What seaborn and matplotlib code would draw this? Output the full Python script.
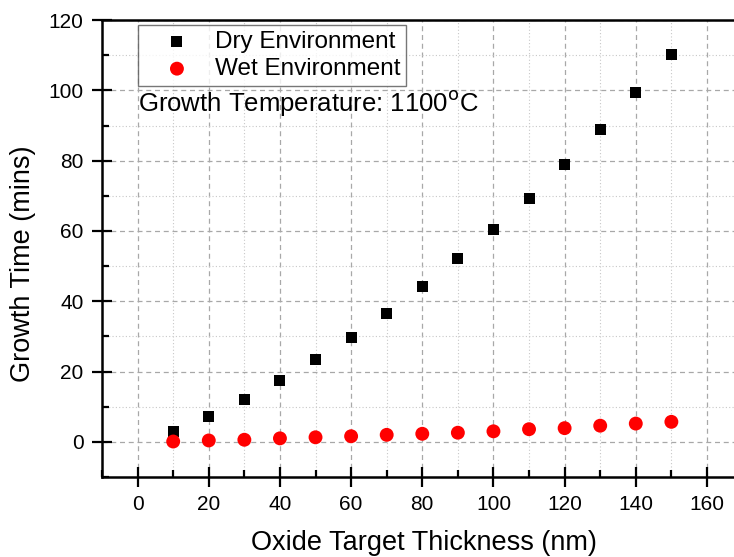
import matplotlib
matplotlib.use("Agg")
import matplotlib.pyplot as plt
from matplotlib.ticker import MultipleLocator
import seaborn as sns
import pandas as pd

# Oxide target thickness (nm) and growth times (mins)
thickness = [10, 20, 30, 40, 50, 60, 70, 80, 90, 100, 110, 120, 130, 140, 150]
dry_time = [2.9, 7.2, 12.0, 17.4, 23.4, 29.6, 36.5, 44.2, 52.1, 60.4, 69.2, 78.9, 88.9, 99.4, 110.3]
wet_time = [0.1, 0.4, 0.6, 1.0, 1.3, 1.6, 2.0, 2.3, 2.6, 3.0, 3.6, 3.9, 4.6, 5.2, 5.7]
series_names = ["Dry Environment", "Wet Environment"]

df = pd.concat([
    pd.DataFrame({"thickness": thickness, "time": dry_time, "env": series_names[0]}),
    pd.DataFrame({"thickness": thickness, "time": wet_time, "env": series_names[1]}),
])

sns.set_style("ticks")
plt.rcParams["font.family"] = ["Liberation Sans", "DejaVu Sans"]
plt.rcParams["text.color"] = "black"
plt.rcParams["axes.labelcolor"] = "black"
plt.rcParams["xtick.color"] = "black"
plt.rcParams["ytick.color"] = "black"
plt.rcParams["axes.edgecolor"] = "black"

fig = plt.figure(figsize=(7.34, 5.57), dpi=100)
ax = fig.add_axes([0.139, 0.1436, 0.861, 0.8204])

sns.scatterplot(data=df[df.env == series_names[0]], x="thickness", y="time",
                marker="s", s=62, color="black", edgecolor="none",
                label=series_names[0], ax=ax, zorder=3)
sns.scatterplot(data=df[df.env == series_names[1]], x="thickness", y="time",
                marker="o", s=100, color="red", edgecolor="none",
                label=series_names[1], ax=ax, zorder=3)

ax.set_xlim(-10, 167.6)
ax.set_ylim(-10, 120)
ax.xaxis.set_major_locator(MultipleLocator(20))
ax.xaxis.set_minor_locator(MultipleLocator(10))
ax.yaxis.set_major_locator(MultipleLocator(20))
ax.yaxis.set_minor_locator(MultipleLocator(10))

ax.grid(which="major", linestyle=(0, (4, 3)), color="#a8a8a8", linewidth=0.9)
ax.grid(which="minor", linestyle=(0, (1, 2)), color="#c8c8c8", linewidth=0.8)
ax.set_axisbelow(True)

ax.tick_params(which="major", direction="inout", length=14.5, width=1.6,
               labelsize=15, pad=6)
ax.tick_params(which="minor", direction="in", length=5, width=1.6)
ax.spines["right"].set_visible(False)
for sp in ["left", "bottom", "top"]:
    ax.spines[sp].set_linewidth(1.8)

ax.set_xlabel("Oxide Target Thickness (nm)", fontsize=19.5)
ax.set_ylabel("Growth Time (mins)", fontsize=19.5)
ax.xaxis.set_label_coords(0.509, -0.144)
ax.yaxis.set_label_coords(-0.125, 0.466)
ax.xaxis.label.set_va("center")
ax.yaxis.label.set_va("center")

leg = ax.legend(loc="upper left", bbox_to_anchor=(0.057, 0.989), fontsize=17.5,
                frameon=True, fancybox=False, edgecolor="#555555",
                borderpad=0.25, handlelength=2.7, handletextpad=0.2,
                labelspacing=0.2, borderaxespad=0, markerscale=1.0)
leg.get_frame().set_linewidth(1.0)

ax.text(0.057, 0.818, "Growth Temperature: 1100$^{\\mathrm{o}}$C", transform=ax.transAxes,
        fontsize=18.5, ha="left", va="center")

fig.savefig("out.png", dpi=100)
